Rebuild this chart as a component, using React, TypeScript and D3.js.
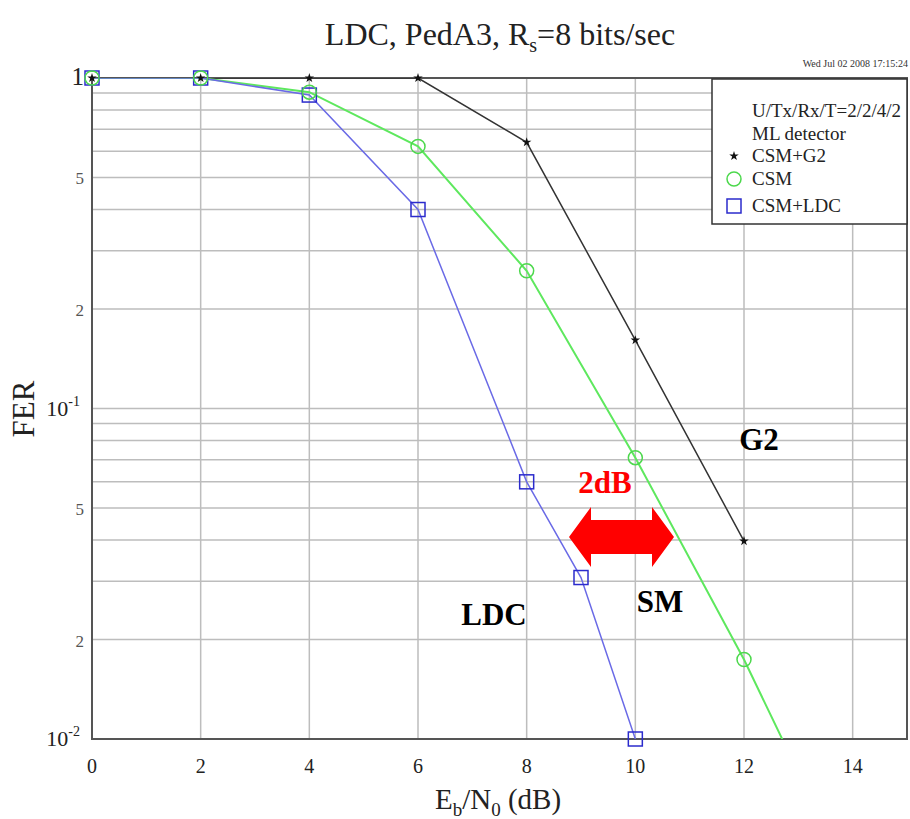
import React, { useEffect, useRef } from "react";
import * as d3 from "d3";

// Eb/N0 (dB) and FER values
const g2Snr = [0, 2, 4, 6, 8, 10, 12];
const g2Fer = [1, 1, 1, 1, 0.639, 0.161, 0.0397];

const csmSnr = [0, 2, 4, 6, 8, 10, 12, 14];
const csmFer = [1, 1, 0.906, 0.621, 0.261, 0.071, 0.0174, 0.0036];

const ldcSnr = [0, 2, 4, 6, 8, 9, 10];
const ldcFer = [1, 1, 0.888, 0.4, 0.06, 0.0308, 0.01];

const xTicks = [0, 2, 4, 6, 8, 10, 12, 14];
const yTickValues = [1, 0.5, 0.2, 0.1, 0.05, 0.02, 0.01];
const yTickLabels = ["1", "5", "2", "10^-1", "5", "2", "10^-2"];

const legendHeader = ["U/Tx/Rx/T=2/2/4/2", "ML detector"];
const legendNames = ["CSM+G2", "CSM", "CSM+LDC"];

const FONT = "'Liberation Serif', 'DejaVu Serif', serif";

const App = () => {
  const svgRef = useRef<SVGSVGElement>(null);

  useEffect(() => {
    const W = 910;
    const H = 819;
    const margin = { top: 78, right: 3, bottom: 80, left: 92 };
    const width = W - margin.left - margin.right;
    const height = H - margin.top - margin.bottom;

    const root = d3.select(svgRef.current);
    root.selectAll("*").remove();
    root.attr("width", W).attr("height", H);

    root
      .append("rect")
      .attr("width", W)
      .attr("height", H)
      .attr("fill", "white");

    const svg = root
      .append("g")
      .attr("transform", `translate(${margin.left},${margin.top})`);

    const x = d3.scaleLinear().domain([0, 15]).range([0, width]);
    const y = d3.scaleLog().domain([0.01, 1]).range([height, 0]);

    // grid
    const minor: number[] = [];
    [0.01, 0.1].forEach((d) => {
      for (let k = 1; k <= 9; k++) minor.push(k * d);
    });
    minor.push(1);

    svg
      .append("g")
      .selectAll("line")
      .data(minor)
      .join("line")
      .attr("x1", 0)
      .attr("x2", width)
      .attr("y1", (d) => y(d))
      .attr("y2", (d) => y(d))
      .attr("stroke", "#bdbdbd")
      .attr("stroke-width", 1.5);

    svg
      .append("g")
      .selectAll("line")
      .data(xTicks)
      .join("line")
      .attr("x1", (d) => x(d))
      .attr("x2", (d) => x(d))
      .attr("y1", 0)
      .attr("y2", height)
      .attr("stroke", "#bdbdbd")
      .attr("stroke-width", 1.5);

    // frame
    svg
      .append("rect")
      .attr("width", width)
      .attr("height", height)
      .attr("fill", "none")
      .attr("stroke", "#555")
      .attr("stroke-width", 2);

    // x tick labels
    svg
      .append("g")
      .selectAll("text")
      .data(xTicks)
      .join("text")
      .attr("x", (d) => x(d))
      .attr("y", height + 34)
      .attr("text-anchor", "middle")
      .attr("font-family", FONT)
      .attr("font-size", 20)
      .attr("fill", "#222")
      .text((d) => d);

    // y tick labels
    const yl = svg.append("g");
    yTickValues.forEach((v, i) => {
      const lab = yTickLabels[i];
      const t = yl
        .append("text")
        .attr("x", -8)
        .attr("y", y(v) + 7)
        .attr("text-anchor", "end")
        .attr("font-family", FONT)
        .attr("fill", lab.length > 1 || lab === "1" ? "#222" : "#555");
      if (lab.includes("^")) {
        const [b, e] = lab.split("^");
        t.attr("x", -12).attr("font-size", 22);
        t.append("tspan").text(b);
        t.append("tspan").attr("dy", -10).attr("font-size", 14).text(e);
      } else {
        t.attr("font-size", lab === "1" ? 25 : 17).text(lab);
      }
    });

    // clip for curves
    root
      .append("defs")
      .append("clipPath")
      .attr("id", "plotClip")
      .append("rect")
      .attr("width", width)
      .attr("height", height);

    const curves = [
      { name: legendNames[0], xs: g2Snr, ys: g2Fer, line: "#333", mark: "#111" },
      { name: legendNames[1], xs: csmSnr, ys: csmFer, line: "#5ee85e", mark: "#4cd84c" },
      { name: legendNames[2], xs: ldcSnr, ys: ldcFer, line: "#6a6ae6", mark: "#2b2bcc" },
    ];

    const lineGen = d3
      .line<[number, number]>()
      .x((d) => x(d[0]))
      .y((d) => y(d[1]));

    const plot = svg.append("g").attr("clip-path", "url(#plotClip)");

    curves.forEach((c) => {
      const pts: [number, number][] = c.xs.map((v, i) => [v, c.ys[i]]);
      plot
        .append("path")
        .datum(pts)
        .attr("d", lineGen)
        .attr("fill", "none")
        .attr("stroke", c.line)
        .attr("stroke-width", c.name === "CSM" ? 2 : 1.5);
    });

    const drawMarker = (g: any, idx: number, cx: number, cy: number) => {
      const c = curves[idx];
      if (idx === 0) {
        g.append("path")
          .attr("d", d3.symbol(d3.symbolStar, 28)())
          .attr("transform", `translate(${cx},${cy})`)
          .attr("fill", c.mark);
      } else if (idx === 1) {
        g.append("circle")
          .attr("cx", cx)
          .attr("cy", cy)
          .attr("r", 7)
          .attr("fill", "none")
          .attr("stroke", c.mark)
          .attr("stroke-width", 1.5);
      } else {
        g.append("rect")
          .attr("x", cx - 7)
          .attr("y", cy - 7)
          .attr("width", 14)
          .attr("height", 14)
          .attr("fill", "none")
          .attr("stroke", c.mark)
          .attr("stroke-width", 1.5);
      }
    };

    const markG = svg.append("g");
    [2, 1, 0].forEach((idx) => {
      const c = curves[idx];
      c.xs.forEach((v, i) => {
        if (c.ys[i] < 0.01 || v > 15) return;
        drawMarker(markG, idx, x(v), y(c.ys[i]));
      });
    });

    // legend
    const lx = 712 - margin.left;
    const ly = 79 - margin.top;
    const leg = svg.append("g");
    leg
      .append("rect")
      .attr("x", lx)
      .attr("y", ly)
      .attr("width", width - lx)
      .attr("height", 145)
      .attr("fill", "white")
      .attr("stroke", "#333")
      .attr("stroke-width", 1.5);
    const rows = [...legendHeader, ...legendNames];
    const rowY = [38, 61, 83, 106, 133];
    rows.forEach((r, i) => {
      leg
        .append("text")
        .attr("x", lx + 40)
        .attr("y", ly + rowY[i])
        .attr("font-family", FONT)
        .attr("font-size", 19)
        .attr("fill", "#222")
        .text(r);
      if (i >= 2) drawMarker(leg, i - 2, lx + 22, ly + rowY[i] - 6);
    });

    // timestamp
    root
      .append("text")
      .attr("x", 908)
      .attr("y", 67)
      .attr("text-anchor", "end")
      .attr("font-family", FONT)
      .attr("font-size", 10)
      .attr("fill", "#333")
      .text("Wed Jul 02 2008 17:15:24");

    // title
    const title = root
      .append("text")
      .attr("x", 500)
      .attr("y", 45)
      .attr("text-anchor", "middle")
      .attr("font-family", FONT)
      .attr("font-size", 32)
      .attr("fill", "#222");
    title.append("tspan").text("LDC, PedA3, R");
    title.append("tspan").attr("dy", 7).attr("font-size", 20).text("s");
    title.append("tspan").attr("dy", -7).text("=8 bits/sec");

    // x axis label
    const xl = root
      .append("text")
      .attr("x", 498)
      .attr("y", 809)
      .attr("text-anchor", "middle")
      .attr("font-family", FONT)
      .attr("font-size", 29)
      .attr("fill", "#222");
    xl.append("tspan").text("E");
    xl.append("tspan").attr("dy", 7).attr("font-size", 19).text("b");
    xl.append("tspan").attr("dy", -7).text("/N");
    xl.append("tspan").attr("dy", 7).attr("font-size", 19).text("0");
    xl.append("tspan").attr("dy", -7).text(" (dB)");

    // y axis label
    root
      .append("text")
      .attr("transform", "translate(34,409) rotate(-90)")
      .attr("text-anchor", "middle")
      .attr("font-family", FONT)
      .attr("font-size", 31)
      .attr("fill", "#222")
      .text("FER");

    // annotations
    const ann = [
      { t: "G2", x: 759, y: 450, c: "#000" },
      { t: "LDC", x: 494, y: 625, c: "#000" },
      { t: "SM", x: 660, y: 612, c: "#000" },
      { t: "2dB", x: 605, y: 493, c: "#ff0000" },
    ];
    root
      .append("g")
      .selectAll("text")
      .data(ann)
      .join("text")
      .attr("x", (d) => d.x)
      .attr("y", (d) => d.y)
      .attr("text-anchor", "middle")
      .attr("font-family", FONT)
      .attr("font-weight", "bold")
      .attr("font-size", 31)
      .attr("fill", (d) => d.c)
      .text((d) => d.t);

    // 2dB double arrow
    const ax0 = 569, ax1 = 674, ay = 537, head = 22, hh = 30, sh = 17;
    const arrow = [
      [ax0, ay],
      [ax0 + head, ay - hh],
      [ax0 + head, ay - sh],
      [ax1 - head, ay - sh],
      [ax1 - head, ay - hh],
      [ax1, ay],
      [ax1 - head, ay + hh],
      [ax1 - head, ay + sh],
      [ax0 + head, ay + sh],
      [ax0 + head, ay + hh],
    ];
    root
      .append("polygon")
      .attr("points", arrow.map((p) => p.join(",")).join(" "))
      .attr("fill", "#ff0000");
  }, []);

  return (
    <div>
      <svg
        ref={svgRef}
        style={{ position: "absolute", left: 0, top: 0, display: "block" }}
      ></svg>
    </div>
  );
};

export default App;
